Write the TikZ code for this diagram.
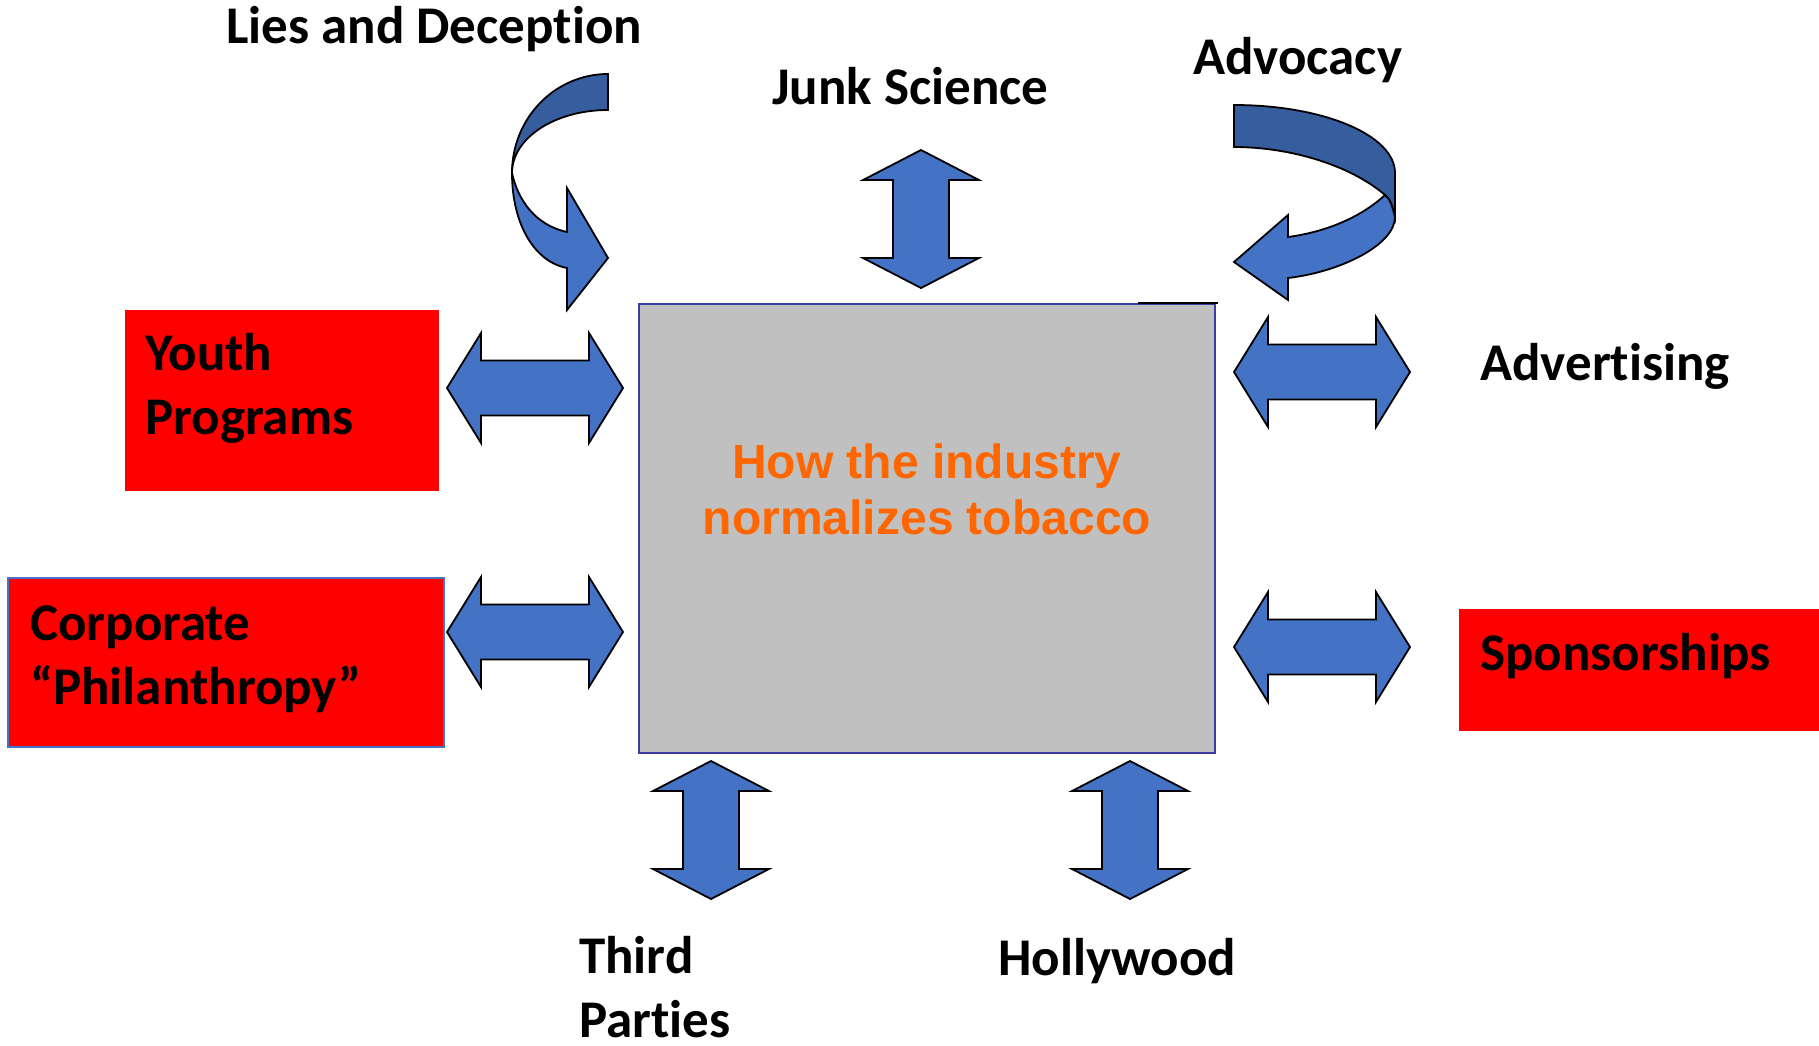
\documentclass[tikz,border=0pt]{standalone}
\usepackage{fontspec}
\setmainfont{Carlito}[Ligatures=CommonOff]
\newfontfamily\arialfont{Liberation Sans}

\definecolor{arrowblue}{RGB}{68,114,196}
\definecolor{arrowdark}{RGB}{54,93,158}
\definecolor{coregray}{RGB}{192,192,192}
\definecolor{coreedge}{RGB}{60,60,160}
\definecolor{coreorange}{RGB}{255,102,0}

\begin{document}
\begin{tikzpicture}[x=1pt,y=-1pt]
  \tikzset{
    textlbl/.style={inner sep=0pt,anchor=base west,align=left,
      font=\fontsize{53}{64}\selectfont\bfseries},
    blockarrow/.style={fill=arrowblue,draw=black,line width=1.8pt,line join=miter},
    backarrow/.style={blockarrow,fill=arrowdark},
    harrow/.pic={\path[blockarrow] (-88,0) -- (-54,-55) -- (-54,-27.5) -- (54,-27.5) -- (54,-55)
      -- (88,0) -- (54,55) -- (54,27.5) -- (-54,27.5) -- (-54,55) -- cycle;},
    varrow/.pic={\path[blockarrow] (0,-69) -- (58,-39) -- (28,-39) -- (28,39) -- (58,39)
      -- (0,69) -- (-58,39) -- (-28,39) -- (-28,-39) -- (-58,-39) -- cycle;}
  }
  \useasboundingbox (0,0) rectangle (1819,1045);

  % centre box
  \draw[fill=coregray,draw=coreedge,line width=1.5pt] (639,304) rectangle (1215,753);
  \draw[line width=2pt] (1138,303) -- (1218,303);
  \node[inner sep=0pt,anchor=base,align=center,text=coreorange,
    font=\arialfont\fontsize{48}{56}\selectfont\bfseries] (core) at (927,534)
    {How the industry\\normalizes tobacco};

  % red boxes
  \fill[red] (125,310) rectangle (439,491);
  \draw[fill=red,draw=arrowblue,line width=1.5pt] (8,578) rectangle (444,747);
  \fill[red] (1459,609) rectangle (1819,731);

  % labels (multi-line ones sit on their last line)
  \node[textlbl] (youth) at (145,434) {Youth\\Programs};
  \node[textlbl] (corp) at (30,704) {Corporate\\“Philanthropy”};
  \node[textlbl] (spons) at (1480,670) {Sponsorships};
  \node[textlbl] (advert) at (1480,380) {Advertising};
  \node[textlbl] (lies) at (226,43) {Lies and Deception};
  \node[textlbl] (junk) at (772,104) {Junk Science};
  \node[textlbl] (advoc) at (1193,74) {Advocacy};
  \node[textlbl,text depth=0pt] (third) at (579,1037) {Third\\Parties};
  \node[textlbl] (holly) at (998,975) {Hollywood};

  % straight arrows
  \pic at (535,388) {harrow};
  \pic at (535,632) {harrow};
  \pic at (1322,372) {harrow};
  \pic at (1322,647) {harrow};
  \pic at (921,219) {varrow};
  \pic at (711,830) {varrow};
  \pic at (1130,830) {varrow};

  % curved arrow, lies and deception
  \path[backarrow] (608,74) .. controls (555,74) and (512,118) .. (512,173)
    .. controls (512,138) and (555,110) .. (608,110) -- cycle;
  \path[blockarrow] (512,173) .. controls (518,200) and (535,225) .. (567,232)
    -- (567,188) -- (608,258) -- (567,310) -- (567,268)
    .. controls (535,262) and (512,225) .. (512,173) -- cycle;

  % curved arrow, advocacy
  \path[backarrow] (1234,105) .. controls (1323,105) and (1395,135) .. (1395,173)
    -- (1395,217) .. controls (1392,205) and (1390,199) .. (1385,195)
    .. controls (1350,165) and (1290,147) .. (1234,147) -- cycle;
  \path[blockarrow] (1288,237) -- (1288,215) -- (1234,262) -- (1288,300) -- (1288,278)
    .. controls (1340,272) and (1395,245) .. (1395,217)
    .. controls (1392,205) and (1390,199) .. (1385,195)
    .. controls (1360,218) and (1325,232) .. (1288,237) -- cycle;
\end{tikzpicture}
\end{document}
